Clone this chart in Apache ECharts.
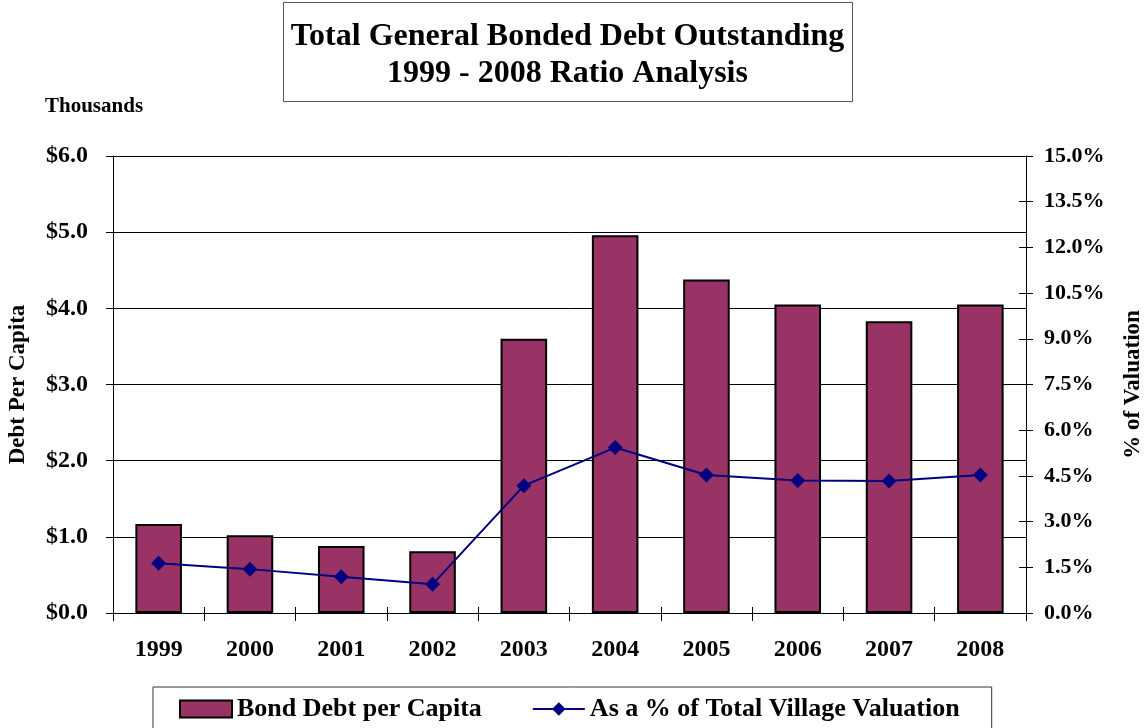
<!DOCTYPE html>
<html><head><meta charset="utf-8">
<script src="https://cdn.jsdelivr.net/npm/echarts@6/dist/echarts.min.js"></script>
<style>html,body{margin:0;padding:0;background:#fff}#c{width:1148px;height:728px}</style>
</head><body><div id="c"></div>
<script>
const years = ['1999','2000','2001','2002','2003','2004','2005','2006','2007','2008'];
const debtPerCapita = [1.17, 1.02, 0.88, 0.81, 3.60, 4.96, 4.38, 4.05, 3.83, 4.05];
const pctValuation = [1.63, 1.44, 1.19, 0.94, 4.18, 5.43, 4.53, 4.35, 4.33, 4.53];
const leftTicks = { min: 0, max: 6, interval: 1 };
const rightTicks = { min: 0, max: 15, interval: 1.5 };
const FONT = '"Liberation Serif", "DejaVu Serif", serif';
const chart = echarts.init(document.getElementById('c'));
chart.setOption({
  backgroundColor: '#fff',
  animation: false,
  textStyle: { fontFamily: FONT },
  graphic: [{
    type: 'rect', shape: { x: 283.5, y: 2.5, width: 569, height: 99 },
    style: { fill: '#fff', stroke: '#555', lineWidth: 1 }
  }, {
    type: 'text', x: 567.5, y: 18,
    style: { text: 'Total General Bonded Debt Outstanding\n1999 - 2008 Ratio Analysis',
      font: 'bold 32px ' + FONT, lineHeight: 37, textAlign: 'center', fill: '#000' }
  }, {
    type: 'text', left: 45, top: 96,
    style: { text: 'Thousands', font: 'bold 21px ' + FONT, fill: '#000' }
  }],
  grid: { left: 113, right: 122, top: 156, bottom: 115, containLabel: false, outerBoundsMode: 'none' },
  legend: {
    left: 153, top: 687,
    padding: [9, 32, 14, 26],
    borderColor: '#333', borderWidth: 1,
    itemGap: 50, itemWidth: 52, itemHeight: 17,
    textStyle: { fontFamily: FONT, fontWeight: 'bold', fontSize: 26, color: '#000' },
    data: [
      { name: 'Bond Debt per Capita', icon: 'rect' },
      { name: 'As a % of Total Village Valuation' }
    ]
  },
  xAxis: [{
    type: 'category', data: years,
    axisLine: { lineStyle: { color: '#000', width: 1 } },
    axisTick: { show: true, length: 8, lineStyle: { color: '#000' } },
    axisLabel: { fontFamily: FONT, fontWeight: 'bold', fontSize: 24, color: '#000', margin: 25 }
  }, {
    type: 'category', data: years, position: 'bottom',
    axisLine: { show: false },
    axisTick: { show: true, inside: true, length: 6, lineStyle: { color: '#000' } },
    axisLabel: { show: false }
  }],
  yAxis: [{
    type: 'value', ...leftTicks,
    name: 'Debt Per Capita', nameLocation: 'middle', nameGap: 83, nameRotate: 90,
    nameTextStyle: { fontFamily: FONT, fontWeight: 'bold', fontSize: 23, color: '#000' },
    axisLine: { show: true, lineStyle: { color: '#000' } },
    axisTick: { show: true, length: 7, lineStyle: { color: '#000' } },
    axisLabel: { fontFamily: FONT, fontWeight: 'bold', fontSize: 24, color: '#000', margin: 25,
      formatter: v => '$' + v.toFixed(1) },
    splitLine: { show: true, lineStyle: { color: '#000', width: 1 } }
  }, {
    type: 'value', ...rightTicks, position: 'right',
    name: '% of Valuation', nameLocation: 'middle', nameGap: 96, nameRotate: 90,
    nameTextStyle: { fontFamily: FONT, fontWeight: 'bold', fontSize: 23, color: '#000' },
    axisLine: { show: true, lineStyle: { color: '#000' } },
    axisTick: { show: true, length: 7, lineStyle: { color: '#000' } },
    axisLabel: { fontFamily: FONT, fontWeight: 'bold', fontSize: 22, color: '#000', margin: 18,
      formatter: v => v.toFixed(1) + '%' },
    splitLine: { show: false }
  }, {
    type: 'value', ...leftTicks, position: 'left',
    axisLine: { show: false },
    axisTick: { show: true, inside: true, length: 7, lineStyle: { color: '#000' } },
    axisLabel: { show: false }, splitLine: { show: false }
  }, {
    type: 'value', ...rightTicks, position: 'right',
    axisLine: { show: false },
    axisTick: { show: true, inside: true, length: 7, lineStyle: { color: '#000' } },
    axisLabel: { show: false }, splitLine: { show: false }
  }],
  series: [{
    name: 'Bond Debt per Capita', type: 'bar', data: debtPerCapita, yAxisIndex: 0,
    barWidth: '51%',
    itemStyle: { color: '#993366', borderColor: '#000', borderWidth: 2 }
  }, {
    name: 'As a % of Total Village Valuation', type: 'line', data: pctValuation, yAxisIndex: 1,
    symbol: 'diamond', symbolSize: 15,
    lineStyle: { color: '#000080', width: 2 },
    itemStyle: { color: '#000080' }
  }]
});
</script></body></html>
